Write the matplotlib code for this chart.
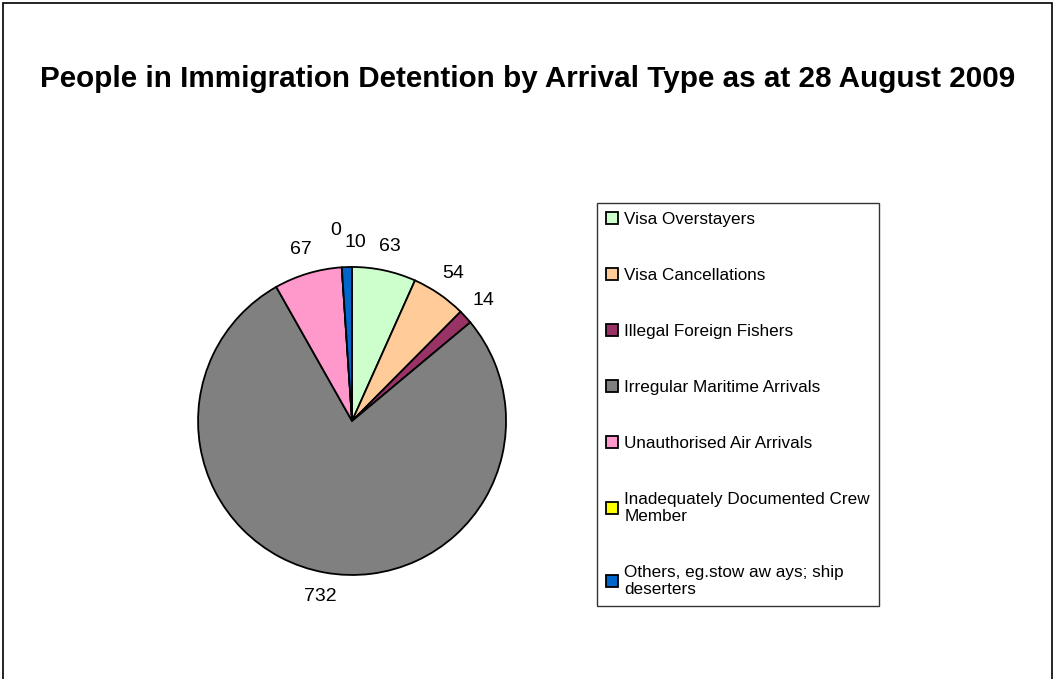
import matplotlib.pyplot as plt
from matplotlib.patches import Rectangle

plt.rcParams['font.family'] = ['Liberation Sans', 'DejaVu Sans']

# arrival types and counts
categories = ['Visa Overstayers', 'Visa Cancellations', 'Illegal Foreign Fishers',
              'Irregular Maritime Arrivals', 'Unauthorised Air Arrivals',
              'Inadequately Documented Crew\nMember',
              'Others, eg.stow aw ays; ship\ndeserters']
values = [63, 54, 14, 732, 67, 0, 10]
colors = ['#CCFFCC', '#FFCC99', '#993366', '#808080', '#FF99CC', '#FFFF00', '#0066CC']

fig = plt.figure(figsize=(10.55, 6.79), dpi=100)
fig.patches.append(Rectangle((0.003, -0.1), 0.994, 1.096, transform=fig.transFigure,
                             fill=False, edgecolor='black', linewidth=1.2))

fig.text(0.5, 0.884, 'People in Immigration Detention by Arrival Type as at 28 August 2009',
         ha='center', va='center', fontsize=21.3, fontweight='bold')

ax = fig.add_axes([0.1512, 0.0965, 0.365, 0.567])
wedges, texts = ax.pie(values, colors=colors, labels=[str(v) for v in values],
                       startangle=90, counterclock=False, labeldistance=1.16,
                       wedgeprops=dict(edgecolor='black', linewidth=1.3),
                       textprops=dict(fontsize=14))
for t in texts:
    t.set_ha('center')
    t.set_va('center')
# nudge the crowded labels at the top apart, as in the original
x0, y0 = texts[5].get_position()
texts[5].set_position((x0 - 0.03, y0 + 0.08))
x1, y1 = texts[6].get_position()
texts[6].set_position((x1 + 0.06, y1))
ax.set_xlim(-1.25, 1.25)
ax.set_ylim(-1.25, 1.25)
ax.set_aspect('equal')

leg = fig.legend(wedges, categories, loc='upper left', bbox_to_anchor=(0.566, 0.701),
                 frameon=True, fancybox=False, edgecolor='black', fontsize=12.3,
                 handlelength=0.7, handleheight=0.7, handletextpad=0.4,
                 labelspacing=2.4, borderpad=0.5, borderaxespad=0)
leg.get_frame().set_linewidth(1.0)

fig.savefig('out.png', dpi=100)
